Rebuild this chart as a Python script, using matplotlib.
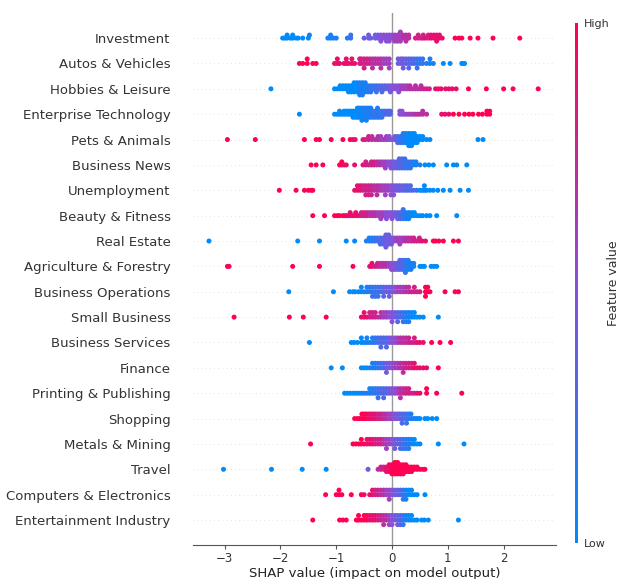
import numpy as np
import matplotlib
matplotlib.use("Agg")
import matplotlib.pyplot as plt
from matplotlib.colors import LinearSegmentedColormap
from matplotlib.cm import ScalarMappable

# feature names, top to bottom
features = ["Investment", "Autos & Vehicles", "Hobbies & Leisure", "Enterprise Technology",
            "Pets & Animals", "Business News", "Unemployment", "Beauty & Fitness",
            "Real Estate", "Agriculture & Forestry", "Business Operations", "Small Business",
            "Business Services", "Finance", "Printing & Publishing", "Shopping",
            "Metals & Mining", "Travel", "Computers & Electronics", "Entertainment Industry"]

# (shap value, feature level 0=low .. 10=high, number of dots) per row
investment = [(-1.96, 0, 1), (-1.92, 0, 1), (-1.88, 0, 2), (-1.82, 0, 1), (-1.78, 0, 2), (-1.72, 0, 1),
              (-1.68, 0, 1), (-1.6, 0, 1), (-1.5, 0, 1), (-1.48, 1, 1), (-1.15, 1, 1), (-1.1, 1, 2),
              (-1.05, 1, 1), (-1.0, 1, 1), (-0.8, 1, 1), (-0.74, 2, 2), (-0.5, 4, 1), (-0.42, 4, 2),
              (-0.38, 4, 1), (-0.3, 4, 2), (-0.25, 4, 2), (-0.2, 5, 3), (-0.15, 5, 2), (-0.1, 5, 3),
              (-0.05, 5, 3), (0.0, 5, 2), (0.05, 6, 3), (0.1, 6, 3), (0.15, 6, 4), (0.2, 7, 2),
              (0.25, 7, 3), (0.3, 7, 2), (0.42, 8, 1), (0.47, 8, 2), (0.52, 8, 1), (0.56, 8, 2),
              (0.6, 9, 1), (0.65, 8, 2), (0.7, 9, 2), (0.75, 9, 2), (0.8, 9, 3), (0.85, 9, 2),
              (0.9, 9, 1), (1.13, 10, 1), (1.2, 10, 1), (1.25, 10, 1), (1.4, 10, 1), (1.54, 10, 1),
              (1.81, 10, 1), (2.29, 10, 1)]
autos = [(-1.66, 10, 1), (-1.6, 10, 1), (-1.52, 10, 2), (-1.42, 10, 1), (-1.36, 10, 1), (-1.03, 9, 1),
         (-0.98, 9, 2), (-0.94, 9, 1), (-0.86, 9, 1), (-0.82, 9, 2), (-0.78, 9, 1), (-0.72, 9, 2),
         (-0.67, 9, 1), (-0.58, 8, 2), (-0.55, 8, 2), (-0.5, 8, 3), (-0.45, 8, 2), (-0.4, 8, 2),
         (-0.35, 7, 3), (-0.3, 7, 2), (-0.25, 7, 2), (-0.2, 7, 3), (-0.15, 6, 2), (-0.1, 6, 2),
         (-0.05, 6, 3), (0.11, 4, 2), (0.16, 4, 2), (0.2, 4, 3), (0.25, 4, 2), (0.3, 3, 3),
         (0.35, 3, 2), (0.4, 3, 2), (0.45, 2, 3), (0.5, 2, 2), (0.55, 2, 2), (0.62, 1, 1),
         (0.68, 1, 2), (0.74, 1, 1), (0.92, 0, 1), (1.04, 0, 1), (1.25, 0, 1), (1.28, 0, 1), (1.3, 0, 1)]
hobbies = [(-2.17, 0, 1), (-1.03, 0, 1), (-0.98, 0, 1), (-0.93, 0, 2), (-0.88, 0, 2), (-0.83, 0, 2),
           (-0.78, 0, 3), (-0.73, 0, 3), (-0.68, 0, 4), (-0.63, 0, 4), (-0.58, 1, 5), (-0.53, 1, 5),
           (-0.48, 1, 4), (-0.43, 1, 3), (-0.38, 2, 3), (-0.33, 2, 2), (-0.28, 2, 3), (-0.23, 3, 2),
           (-0.18, 3, 3), (-0.13, 3, 2), (-0.08, 4, 2), (-0.03, 4, 3), (0.02, 5, 2), (0.07, 5, 2),
           (0.12, 5, 3), (0.17, 6, 2), (0.22, 6, 2), (0.27, 6, 2), (0.32, 7, 2), (0.37, 7, 1),
           (0.42, 7, 2), (0.47, 7, 1), (0.52, 7, 2), (0.57, 8, 1), (0.62, 8, 1), (0.67, 8, 1),
           (0.78, 9, 1), (0.83, 9, 1), (0.88, 9, 1), (0.96, 9, 1), (1.02, 9, 1), (1.08, 9, 1),
           (1.15, 9, 1), (1.37, 10, 1), (1.69, 10, 1), (2.0, 10, 1), (2.17, 10, 1), (2.62, 10, 1)]
enterprise = [(-1.66, 0, 1), (-1.03, 0, 1), (-0.98, 0, 1), (-0.94, 0, 2), (-0.9, 0, 1), (-0.86, 0, 2),
              (-0.82, 0, 2), (-0.78, 0, 2), (-0.74, 0, 2), (-0.7, 0, 3), (-0.66, 0, 3), (-0.62, 0, 4),
              (-0.58, 1, 4), (-0.54, 0, 5), (-0.5, 1, 4), (-0.46, 1, 5), (-0.42, 1, 4), (-0.38, 1, 4),
              (-0.34, 2, 3), (-0.3, 2, 3), (-0.26, 1, 4), (-0.22, 2, 3), (-0.18, 2, 3), (-0.14, 2, 2),
              (-0.1, 3, 2), (-0.06, 3, 2), (-0.03, 3, 2), (0.14, 5, 2), (0.18, 5, 2), (0.22, 5, 1),
              (0.26, 6, 1), (0.3, 6, 1), (0.34, 6, 1), (0.38, 6, 1), (0.42, 7, 1), (0.46, 7, 1),
              (0.5, 7, 1), (0.55, 7, 2), (0.62, 7, 1), (0.89, 9, 1), (0.95, 9, 1), (1.02, 9, 1),
              (1.1, 10, 1), (1.2, 10, 1), (1.3, 10, 1), (1.38, 10, 1), (1.45, 10, 1), (1.55, 10, 1),
              (1.62, 10, 1), (1.7, 10, 2), (1.75, 10, 2)]
pets = [(-2.95, 10, 1), (-2.45, 10, 1), (-1.57, 10, 1), (-1.36, 10, 1), (-1.3, 10, 1), (-1.09, 10, 1),
        (-0.88, 10, 1), (-0.75, 10, 1), (-0.7, 9, 1), (-0.66, 9, 1), (-0.52, 8, 1), (-0.48, 8, 1),
        (-0.42, 8, 2), (-0.36, 7, 2), (-0.3, 7, 1), (-0.25, 7, 2), (-0.2, 6, 2), (-0.15, 6, 1),
        (-0.1, 6, 2), (-0.05, 5, 2), (0.0, 5, 1), (0.05, 4, 2), (0.1, 3, 3), (0.15, 2, 3),
        (0.2, 1, 4), (0.25, 1, 4), (0.3, 0, 5), (0.35, 0, 5), (0.4, 0, 4), (0.45, 0, 3),
        (0.5, 0, 2), (0.55, 0, 2), (0.62, 0, 1), (0.68, 0, 1), (1.54, 0, 1), (1.63, 0, 1)]
business_news = [(-1.45, 10, 1), (-1.36, 10, 1), (-1.24, 10, 1), (-0.94, 10, 1), (-0.9, 10, 2),
                 (-0.86, 9, 1), (-0.82, 9, 1), (-0.67, 9, 1), (-0.52, 9, 1), (-0.47, 8, 2),
                 (-0.42, 8, 1), (-0.37, 8, 2), (-0.32, 8, 2), (-0.27, 7, 2), (-0.22, 7, 2),
                 (-0.17, 6, 2), (-0.12, 6, 3), (-0.07, 5, 2), (-0.02, 5, 3), (0.03, 4, 3),
                 (0.08, 4, 3), (0.13, 3, 4), (0.18, 3, 4), (0.23, 2, 4), (0.28, 2, 3), (0.33, 2, 3),
                 (0.38, 1, 2), (0.43, 1, 2), (0.5, 1, 1), (0.59, 0, 1), (0.66, 0, 1), (0.74, 0, 1),
                 (0.98, 0, 1), (1.1, 0, 1), (1.16, 0, 1), (1.34, 0, 1)]
unemployment = [(-2.02, 10, 1), (-1.72, 10, 1), (-1.57, 10, 1), (-1.5, 10, 1), (-1.45, 10, 1),
                (-1.42, 10, 1), (-0.67, 9, 1), (-0.62, 9, 2), (-0.57, 9, 2), (-0.52, 8, 2),
                (-0.47, 8, 3), (-0.42, 8, 3), (-0.37, 8, 3), (-0.32, 7, 2), (-0.27, 7, 3),
                (-0.22, 7, 2), (-0.17, 6, 2), (-0.12, 6, 3), (-0.07, 6, 2), (-0.02, 5, 3),
                (0.03, 5, 3), (0.08, 4, 2), (0.13, 4, 2), (0.18, 4, 2), (0.23, 3, 2), (0.28, 3, 2),
                (0.33, 3, 2), (0.38, 3, 1), (0.44, 2, 1), (0.5, 0, 1), (0.54, 0, 1), (0.58, 0, 2),
                (0.62, 0, 1), (0.68, 0, 1), (0.74, 0, 1), (0.82, 0, 1), (0.92, 0, 1), (1.04, 0, 1),
                (1.22, 0, 1), (1.37, 0, 1)]
beauty = [(-1.42, 10, 1), (-1.21, 10, 1), (-1.03, 10, 1), (-0.98, 10, 1), (-0.94, 10, 1), (-0.88, 10, 1),
          (-0.84, 10, 1), (-0.8, 9, 1), (-0.75, 9, 2), (-0.7, 9, 1), (-0.65, 9, 2), (-0.6, 9, 1),
          (-0.55, 8, 2), (-0.5, 8, 2), (-0.45, 8, 2), (-0.4, 7, 2), (-0.35, 7, 2), (-0.3, 7, 2),
          (-0.25, 6, 2), (-0.2, 6, 3), (-0.15, 6, 2), (-0.1, 5, 3), (-0.05, 5, 2), (0.0, 5, 3),
          (0.05, 4, 2), (0.1, 4, 3), (0.15, 3, 3), (0.2, 2, 4), (0.25, 1, 3), (0.3, 1, 3),
          (0.35, 0, 2), (0.4, 0, 2), (0.45, 0, 1), (0.5, 0, 1), (0.55, 0, 1), (0.62, 0, 1),
          (0.68, 0, 1), (0.8, 0, 1), (1.16, 0, 1)]
real_estate = [(-3.28, 0, 1), (-1.69, 0, 1), (-1.3, 0, 1), (-0.82, 0, 1), (-0.67, 0, 1), (-0.46, 1, 1),
               (-0.41, 1, 2), (-0.36, 1, 2), (-0.31, 2, 2), (-0.26, 2, 2), (-0.21, 3, 3), (-0.16, 3, 3),
               (-0.11, 4, 5), (-0.06, 4, 4), (-0.01, 4, 3), (0.04, 5, 2), (0.09, 6, 2), (0.14, 6, 3),
               (0.19, 6, 2), (0.24, 7, 2), (0.29, 7, 2), (0.34, 7, 2), (0.39, 8, 2), (0.44, 8, 1),
               (0.49, 8, 2), (0.54, 9, 1), (0.6, 9, 1), (0.74, 10, 1), (0.78, 10, 1), (0.84, 10, 1),
               (0.92, 10, 1), (1.1, 10, 1), (1.19, 10, 1)]
agriculture = [(-2.95, 10, 1), (-2.92, 10, 1), (-1.78, 10, 1), (-1.3, 10, 1), (-0.7, 10, 1), (-0.4, 9, 1),
               (-0.36, 9, 2), (-0.31, 8, 1), (-0.26, 8, 2), (-0.21, 7, 2), (-0.16, 7, 2), (-0.11, 7, 2),
               (-0.06, 6, 2), (-0.01, 5, 3), (0.04, 5, 3), (0.09, 4, 3), (0.14, 3, 4), (0.19, 3, 4),
               (0.24, 2, 5), (0.29, 1, 4), (0.34, 1, 3), (0.39, 1, 2), (0.5, 0, 1), (0.54, 0, 1),
               (0.58, 0, 1), (0.7, 0, 1), (0.75, 0, 1), (0.8, 0, 1)]
operations = [(-1.85, 0, 1), (-1.05, 0, 1), (-0.76, 0, 1), (-0.7, 0, 1), (-0.66, 0, 1), (-0.6, 0, 1),
              (-0.55, 0, 2), (-0.5, 1, 1), (-0.45, 1, 2), (-0.4, 1, 2), (-0.35, 2, 3), (-0.3, 2, 3),
              (-0.25, 2, 3), (-0.2, 3, 2), (-0.15, 3, 3), (-0.1, 4, 2), (-0.05, 4, 3), (0.0, 4, 2),
              (0.05, 5, 2), (0.1, 6, 2), (0.15, 6, 2), (0.2, 6, 2), (0.25, 7, 2), (0.3, 7, 2),
              (0.35, 8, 1), (0.4, 8, 2), (0.45, 8, 1), (0.5, 8, 1), (0.6, 10, 3), (0.64, 10, 2),
              (0.68, 10, 1), (0.95, 10, 1), (1.13, 10, 1), (1.19, 10, 1)]
small_business = [(-2.83, 10, 1), (-1.84, 10, 1), (-1.59, 10, 1), (-1.18, 10, 1), (-0.55, 9, 1),
                  (-0.5, 9, 2), (-0.45, 9, 1), (-0.4, 8, 2), (-0.35, 8, 2), (-0.3, 8, 2), (-0.25, 7, 1),
                  (-0.2, 7, 2), (-0.15, 6, 2), (-0.1, 6, 2), (-0.05, 5, 2), (0.0, 5, 3), (0.05, 4, 2),
                  (0.1, 3, 3), (0.15, 3, 2), (0.2, 2, 3), (0.25, 1, 3), (0.3, 1, 3), (0.35, 0, 2),
                  (0.4, 0, 2), (0.45, 0, 1), (0.5, 0, 1), (0.56, 0, 1), (0.83, 0, 1)]
services = [(-1.48, 0, 1), (-0.73, 0, 1), (-0.68, 0, 1), (-0.62, 0, 1), (-0.55, 0, 2), (-0.5, 0, 1),
            (-0.45, 1, 2), (-0.4, 1, 1), (-0.35, 1, 2), (-0.3, 2, 2), (-0.25, 2, 2), (-0.2, 3, 3),
            (-0.15, 3, 2), (-0.1, 3, 3), (-0.05, 4, 2), (0.0, 5, 2), (0.05, 5, 2), (0.1, 6, 2),
            (0.15, 7, 2), (0.2, 7, 2), (0.25, 7, 2), (0.3, 8, 2), (0.35, 8, 1), (0.4, 8, 2),
            (0.45, 9, 1), (0.5, 9, 1), (0.56, 9, 1), (0.71, 10, 1), (0.86, 10, 1), (1.05, 10, 1)]
finance = [(-1.09, 0, 1), (-0.89, 0, 1), (-0.55, 0, 1), (-0.5, 0, 1), (-0.45, 0, 1), (-0.4, 1, 1),
           (-0.35, 1, 2), (-0.3, 1, 2), (-0.25, 2, 2), (-0.2, 2, 2), (-0.15, 3, 2), (-0.1, 4, 3),
           (-0.05, 4, 2), (0.0, 5, 2), (0.05, 6, 2), (0.1, 6, 2), (0.15, 7, 2), (0.2, 7, 3),
           (0.25, 8, 2), (0.3, 8, 2), (0.35, 8, 2), (0.4, 9, 2), (0.45, 9, 1), (0.5, 9, 1),
           (0.56, 9, 1), (0.62, 9, 1), (0.83, 10, 1)]
printing = [(-0.85, 0, 1), (-0.8, 0, 1), (-0.75, 0, 1), (-0.7, 0, 1), (-0.65, 0, 1), (-0.6, 0, 1),
            (-0.55, 0, 1), (-0.5, 1, 1), (-0.45, 1, 1), (-0.4, 1, 2), (-0.35, 1, 2), (-0.3, 2, 2),
            (-0.25, 2, 3), (-0.2, 3, 2), (-0.15, 3, 3), (-0.1, 3, 2), (-0.05, 4, 2), (0.0, 5, 2),
            (0.05, 5, 2), (0.1, 6, 2), (0.15, 7, 3), (0.2, 7, 2), (0.25, 8, 2), (0.3, 8, 2),
            (0.35, 8, 1), (0.4, 8, 1), (0.45, 9, 1), (0.5, 9, 1), (0.62, 10, 2), (0.8, 10, 1),
            (1.25, 10, 1)]
shopping = [(-0.67, 10, 1), (-0.62, 10, 1), (-0.58, 10, 1), (-0.54, 10, 2), (-0.5, 10, 2), (-0.46, 10, 2),
            (-0.42, 9, 2), (-0.38, 9, 2), (-0.34, 9, 2), (-0.3, 9, 2), (-0.26, 8, 2), (-0.22, 8, 2),
            (-0.18, 8, 2), (-0.14, 7, 2), (-0.1, 7, 2), (-0.06, 6, 2), (-0.02, 6, 2), (0.02, 5, 2),
            (0.06, 5, 2), (0.1, 4, 2), (0.14, 4, 2), (0.18, 3, 3), (0.22, 3, 2), (0.26, 2, 3),
            (0.3, 2, 2), (0.34, 1, 2), (0.38, 1, 1), (0.42, 1, 1), (0.46, 0, 1), (0.5, 0, 1),
            (0.59, 0, 1), (0.64, 0, 1), (0.72, 0, 1), (0.8, 0, 1)]
metals = [(-1.46, 10, 1), (-0.7, 10, 1), (-0.65, 10, 1), (-0.6, 10, 1), (-0.55, 10, 2), (-0.5, 10, 1),
          (-0.45, 9, 2), (-0.4, 9, 2), (-0.35, 9, 2), (-0.3, 8, 2), (-0.25, 8, 2), (-0.2, 8, 2),
          (-0.15, 7, 2), (-0.1, 6, 3), (-0.05, 6, 2), (0.0, 5, 2), (0.05, 4, 3), (0.1, 4, 2),
          (0.15, 3, 3), (0.2, 2, 3), (0.25, 2, 3), (0.3, 1, 3), (0.35, 1, 2), (0.4, 0, 2),
          (0.45, 0, 1), (0.5, 0, 1), (0.83, 0, 1), (1.29, 0, 1)]
travel = [(-3.02, 0, 1), (-2.16, 0, 1), (-1.61, 0, 1), (-1.18, 0, 1), (-0.43, 4, 1), (-0.25, 7, 1),
          (-0.2, 8, 2), (-0.15, 8, 2), (-0.1, 9, 3), (-0.05, 9, 4), (0.0, 10, 5), (0.05, 10, 6),
          (0.1, 10, 6), (0.15, 10, 5), (0.2, 10, 5), (0.25, 10, 4), (0.3, 10, 3), (0.35, 10, 3),
          (0.4, 10, 2), (0.45, 10, 2), (0.5, 10, 1), (0.55, 10, 1), (0.59, 10, 1)]
computers = [(-1.19, 10, 1), (-1.0, 10, 1), (-0.95, 10, 2), (-0.9, 10, 1), (-0.73, 10, 1), (-0.55, 10, 1),
             (-0.5, 9, 1), (-0.4, 9, 1), (-0.35, 9, 2), (-0.3, 8, 2), (-0.25, 8, 2), (-0.2, 7, 2),
             (-0.15, 7, 2), (-0.1, 6, 2), (-0.05, 6, 3), (0.0, 5, 2), (0.05, 4, 2), (0.1, 4, 2),
             (0.15, 3, 2), (0.2, 2, 3), (0.25, 1, 3), (0.3, 0, 2), (0.35, 0, 2), (0.4, 0, 1),
             (0.45, 0, 1), (0.59, 0, 1)]
entertainment = [(-1.42, 10, 1), (-0.94, 10, 1), (-0.88, 10, 1), (-0.82, 10, 1), (-0.64, 10, 1),
                 (-0.6, 10, 2), (-0.55, 10, 1), (-0.5, 10, 2), (-0.45, 10, 2), (-0.4, 9, 2),
                 (-0.35, 9, 2), (-0.3, 9, 2), (-0.25, 8, 2), (-0.2, 8, 2), (-0.15, 7, 3), (-0.1, 7, 2),
                 (-0.05, 6, 3), (0.0, 5, 3), (0.05, 4, 2), (0.1, 4, 3), (0.15, 3, 3), (0.2, 2, 3),
                 (0.25, 1, 2), (0.3, 0, 2), (0.35, 0, 2), (0.4, 0, 1), (0.45, 0, 1), (0.53, 0, 1),
                 (0.58, 0, 1), (0.65, 0, 1), (1.19, 0, 1)]

rows = [investment, autos, hobbies, enterprise, pets, business_news, unemployment, beauty,
        real_estate, agriculture, operations, small_business, services, finance, printing,
        shopping, metals, travel, computers, entertainment]

red_blue = LinearSegmentedColormap.from_list(
    "red_blue", [(0.0, "#008bfb"), (0.5, "#8a4fd8"), (1.0, "#ff0052")])

fig = plt.figure(figsize=(6.22, 5.79), dpi=100)
ax = fig.add_axes([0.310, 0.058, 0.584, 0.920])

ax.axvline(0, color="#999999", lw=1, zorder=-1)

n = len(features)
row_height = 0.4
for i, pts in enumerate(rows):
    pos = n - 1 - i
    ax.axhline(y=pos, color="#cccccc", lw=0.5, dashes=(1, 5), zorder=-1)
    shaps = np.array([p[0] for p in pts for _ in range(p[2])], dtype=float)
    vals = np.array([p[1] for p in pts for _ in range(p[2])], dtype=float) / 10.0
    # beeswarm stacking like shap's summary plot
    nbins = 100
    quant = np.round(nbins * (shaps - shaps.min()) / (shaps.max() - shaps.min() + 1e-8))
    inds = np.argsort(quant, kind="stable")
    layer = 0
    last_bin = -1
    ys = np.zeros(len(shaps))
    for ind in inds:
        if quant[ind] != last_bin:
            layer = 0
        ys[ind] = np.ceil(layer / 2) * ((layer % 2) * 2 - 1)
        layer += 1
        last_bin = quant[ind]
    ys *= 0.9 * (row_height / np.max(ys + 1))
    ax.scatter(shaps, pos + ys, c=vals, cmap=red_blue, vmin=0, vmax=1,
               s=13, linewidth=0, zorder=3)

ax.set_yticks(range(n))
ax.set_yticklabels(features[::-1], fontsize=9.5, color="#333333")
ax.tick_params(axis="y", length=0, pad=16)
ax.set_ylim(-1, n)
ax.set_xlim(-3.57, 2.94)
ax.tick_params(axis="x", labelsize=8.5, length=3, pad=2, color="#555555", labelcolor="#333333")
ax.set_xlabel("SHAP value (impact on model output)", fontsize=9.5, labelpad=1, color="#222222")
ax.spines["bottom"].set_color("#555555")
for side in ["left", "right", "top"]:
    ax.spines[side].set_visible(False)

cax = fig.add_axes([575 / 622, 1 - 543 / 579, 3 / 622, 520 / 579])
sm = ScalarMappable(cmap=red_blue)
sm.set_array([0, 1])
cb = fig.colorbar(sm, cax=cax, ticks=[0, 1])
cb.set_ticklabels(["Low", "High"])
cb.ax.tick_params(labelsize=8, length=0, pad=4, labelcolor="#333333")
cb.set_label("Feature value", size=9, labelpad=-2, color="#333333")
cb.outline.set_visible(False)

fig.savefig("out.png", dpi=100)
